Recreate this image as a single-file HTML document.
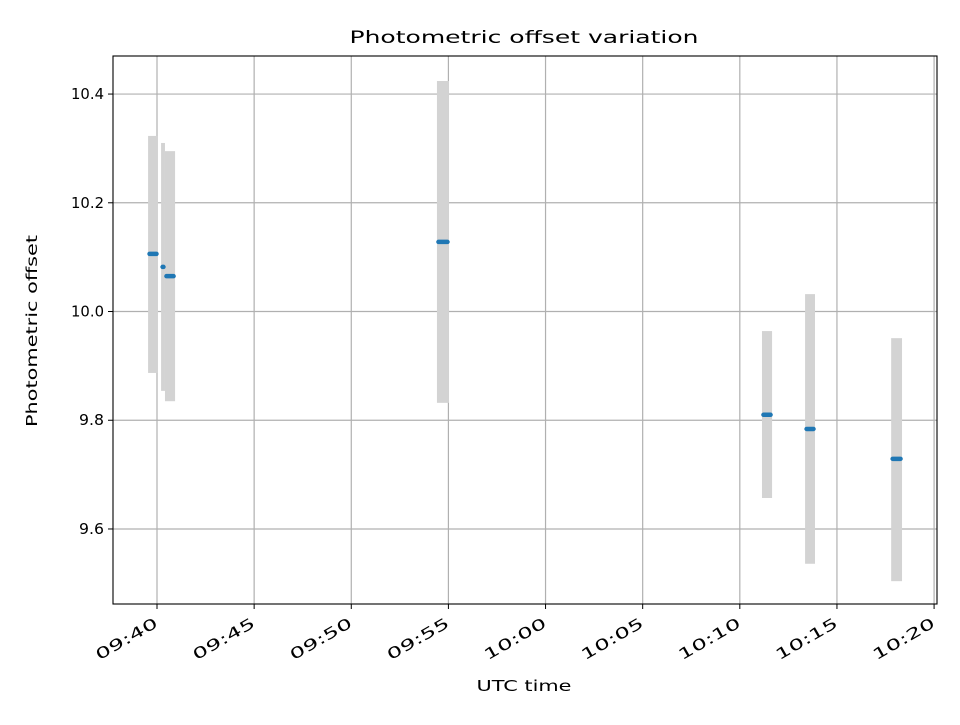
<!DOCTYPE html>
<html><head><meta charset="utf-8"><style>
body{margin:0;background:#fff}
svg text{font-family:"DejaVu Sans","Liberation Sans",sans-serif;fill:#000}
</style></head><body>
<svg id="chart" width="960" height="720" viewBox="0 0 960 720">
<rect width="960" height="720" fill="#fff"/>
<g id="grid"></g><g id="bands"></g><g id="marks"></g><g id="axes"></g>
<text x="524" y="43" text-anchor="middle" font-size="17" textLength="349" lengthAdjust="spacingAndGlyphs">Photometric offset variation</text>
<text x="524" y="691" text-anchor="middle" font-size="15" textLength="95" lengthAdjust="spacingAndGlyphs">UTC time</text>
<text transform="translate(37,331) rotate(-90)" text-anchor="middle" font-size="15" textLength="192" lengthAdjust="spacingAndGlyphs">Photometric offset</text>
</svg>
<script>
// minutes after 09:40
const groupStart = [-0.46, 0.21, 0.41, 14.41, 31.14, 33.36, 37.79];
const groupEnd   = [0.05, 0.41, 0.93, 15.03, 31.66, 33.87, 38.35];
const meanOffset = [10.106, 10.082, 10.065, 10.128, 9.810, 9.784, 9.729];
const lowOffset  = [9.887, 9.854, 9.835, 9.832, 9.657, 9.536, 9.504];
const highOffset = [10.323, 10.310, 10.295, 10.424, 9.964, 10.032, 9.951];
const xTickMinutes = [0,5,10,15,20,25,30,35,40];
const xTickLabels = ["09:40","09:45","09:50","09:55","10:00","10:05","10:10","10:15","10:20"];
const yTicks = [9.6, 9.8, 10.0, 10.2, 10.4];
const yTickLabels = ["9.6","9.8","10.0","10.2","10.4"];

const L=113,R=937,T=56,B=604;
const xMin=-2.265,xMax=40.15,yMin=9.462,yMax=10.470;
const xs=m=>L+(m-xMin)/(xMax-xMin)*(R-L);
const ys=v=>B-(v-yMin)/(yMax-yMin)*(B-T);
const NS="http://www.w3.org/2000/svg";
function mk(tag,attrs,parent){const e=document.createElementNS(NS,tag);for(const k in attrs)e.setAttribute(k,attrs[k]);parent.appendChild(e);return e;}
const grid=document.getElementById('grid'),bands=document.getElementById('bands'),marks=document.getElementById('marks'),axes=document.getElementById('axes');

xTickMinutes.forEach((m,i)=>{
  const x=xs(m);
  const g=mk('line',{x1:x,x2:x,y1:T,y2:B,stroke:'#b0b0b0','stroke-width':1.2},grid);
  
  
  const t=mk('line',{x1:x,x2:x,y1:B,y2:B+5,stroke:'#000','stroke-width':1},axes);
  
  
  const lb=mk('text',{'font-size':15,'text-anchor':'end',textLength:69,lengthAdjust:'spacingAndGlyphs',transform:`translate(${x+2},${B+22}) rotate(-30)`},axes);
  lb.textContent=xTickLabels[i];
  
  
});
yTicks.forEach((v,i)=>{
  const y=ys(v);
  const g=mk('line',{x1:L,x2:R,y1:y,y2:y,stroke:'#b0b0b0','stroke-width':1.2},grid);
  
  
  const t=mk('line',{x1:L-5,x2:L,y1:y,y2:y,stroke:'#000','stroke-width':1},axes);
  
  
  const w=yTickLabels[i].length===4?33:25;
  const lb=mk('text',{x:L-28+0,y:y+5,'font-size':15,'text-anchor':'end',textLength:w,lengthAdjust:'spacingAndGlyphs'},axes);
  lb.setAttribute('x',L-9);
  lb.textContent=yTickLabels[i];
  
  
});
groupStart.forEach((s,i)=>{
  const x0=xs(s),x1=xs(groupEnd[i]);
  const r=mk('rect',{x:x0,y:ys(highOffset[i]),width:Math.max(x1-x0,3),height:ys(lowOffset[i])-ys(highOffset[i]),fill:'#d3d3d3'},bands);
  
  
  const ln=mk('line',{x1:x0+1.5,x2:Math.max(x1-1.5,x0+1.6),y1:ys(meanOffset[i]),y2:ys(meanOffset[i]),stroke:'#1f77b4','stroke-width':4.5,'stroke-linecap':'round'},marks);
  
  
});
const fr=mk('rect',{x:L,y:T,width:R-L,height:B-T,fill:'none',stroke:'#000','stroke-width':1.1},axes);


</script>
</body></html>
